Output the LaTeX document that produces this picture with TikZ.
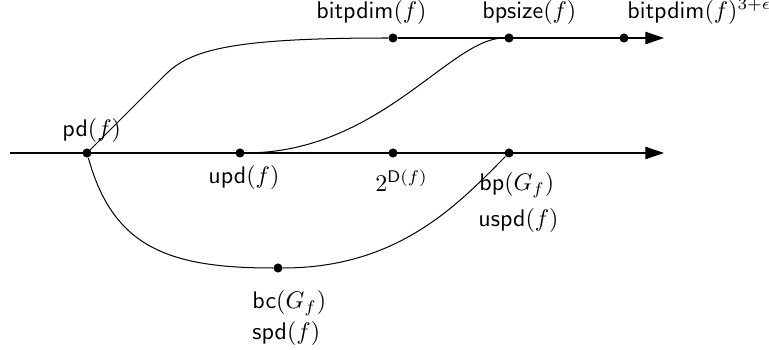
\documentclass[tikz,border=0pt]{standalone}
\usetikzlibrary{arrows.meta}
\begin{document}
\begin{tikzpicture}[x=0.4167pt,y=-0.4167pt,
  dot/.style={circle,fill=black,inner sep=0pt,minimum size=3.8pt},
  lab/.style={anchor=base west,inner sep=0pt},
  labr/.style={anchor=base east,inner sep=0pt},
  axis/.style={line width=0.42pt,-{Triangle[length=7.8pt,width=5.2pt]}},
  curve/.style={line width=0.42pt}]
\useasboundingbox (0,0) rectangle (769,350);
% points
\coordinate (mainS) at (10,153);
\coordinate (mainE) at (664,153);
\coordinate (topE) at (664,38);
\node[dot] (pd) at (87,153) {};
\node[dot] (upd) at (240,153) {};
\node[dot] (tD) at (393,153) {};
\node[dot] (bp) at (509,153) {};
\node[dot] (bc) at (278,268) {};
\node[dot] (bitpdim) at (393,38) {};
\node[dot] (bpsize) at (509,38) {};
\node[dot] (bitcube) at (624,38) {};
% lines
\draw[axis] (mainS) -- (mainE);
\draw[axis] (bitpdim) -- (topE);
\draw[curve] (pd.center) -- (165,75) .. controls (190,50) and (230,38) .. (bitpdim);
\draw[curve] (upd) .. controls (380,153) and (450,38) .. (bpsize);
\draw[curve] (pd) .. controls (113,247) and (168,268) .. (bc);
\draw[curve] (bc) .. controls (400,268) and (460,202) .. (bp);
% labels
\node[lab] (lpd) at (62,137) {$\mathsf{pd}(f)$};
\node[lab] (lupd) at (208,184) {$\mathsf{upd}(f)$};
\node[lab] (ltD) at (375,191.5) {$2^{\mathsf{D}(f)}$};
\node[lab] (lbp) at (479,190.5) {$\mathsf{bp}(G_f)$};
\node[lab] (luspd) at (478,226.5) {$\mathsf{uspd}(f)$};
\node[lab] (lbc) at (252,308.5) {$\mathsf{bc}(G_f)$};
\node[lab] (lspd) at (252,339.5) {$\mathsf{spd}(f)$};
\node[labr] (lbitpdim) at (427,18.5) {$\mathsf{bitpdim}(f)$};
\node[lab] (lbpsize) at (482,18.5) {$\mathsf{bpsize}(f)$};
\node[lab] (lbitcube) at (627,18.5) {$\mathsf{bitpdim}(f)^{3+\epsilon}$};
\end{tikzpicture}
\end{document}
